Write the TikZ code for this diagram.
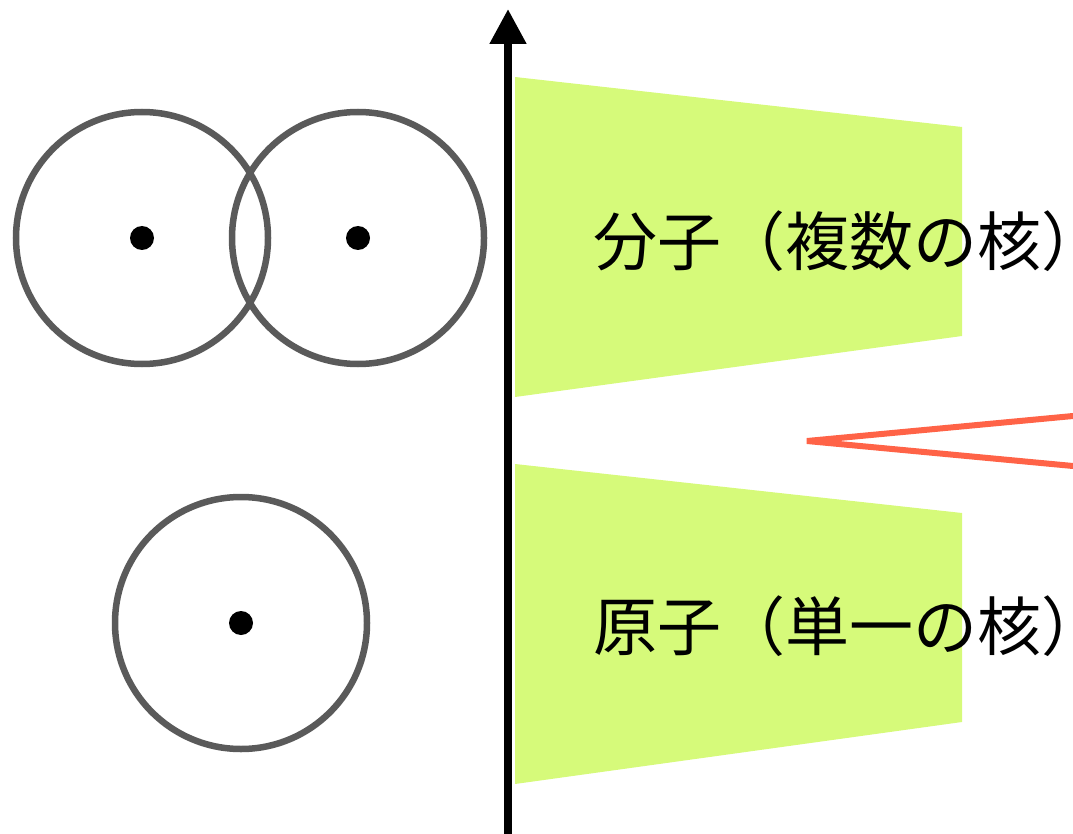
\documentclass[tikz,border=0pt]{standalone}
\usepackage{fontspec}
\newfontfamily\jpfont{Noto Sans CJK JP}
\usetikzlibrary{arrows.meta, positioning}
\definecolor{lime}{RGB}{214,250,122}
\definecolor{shell}{RGB}{90,90,90}
\definecolor{tomato}{RGB}{255,99,71}

\begin{document}
\begin{tikzpicture}[
        x=1pt, y=-1pt,
        every node/.style={inner sep=0pt},
        orbit/.style={draw=shell, line width=6.5pt, circle, minimum size=252pt},
        nucleus/.style={fill=black, circle, minimum size=24pt},
        band/.style={fill=lime, draw=none},
        label/.style={font=\jpfont\fontsize{64}{76}\selectfont, anchor=west},
        axis/.style={-{Triangle[width=35pt,length=35pt]}, line width=8pt},
        gap/.style={draw=tomato, line width=6pt}
    ]
        \useasboundingbox (0,0) rectangle (1073,834);

        % energy bands
        \fill[band] (515,77) -- (962,127) -- (962,336) -- (515,397) -- cycle;
        \fill[band] (515,464) -- (962,513) -- (962,722) -- (515,784) -- cycle;

        \coordinate (base) at (508,834);
        \coordinate (top) at (508,9);
        \draw[axis] (base) -- (top);

        \node[orbit] (left) at (142,238) {};
        \node[orbit] (right) at (358,238) {};
        \node[orbit] (single) at (241,623) {};
        \node[nucleus] (nl) at (left) {};
        \node[nucleus] (nr) at (right) {};
        \node[nucleus] (ns) at (single) {};

        \node[label] (mol) at (593,241) {分子（複数の核）};
        \node[label] (atom) at (593,626) {原子（単一の核）};

        \coordinate (apex) at (807,441);
        \coordinate (up) at (1073,416);
        \coordinate (down) at (1073,466);
        \draw[gap] (up) -- (apex) -- (down);
    \end{tikzpicture}
\end{document}
